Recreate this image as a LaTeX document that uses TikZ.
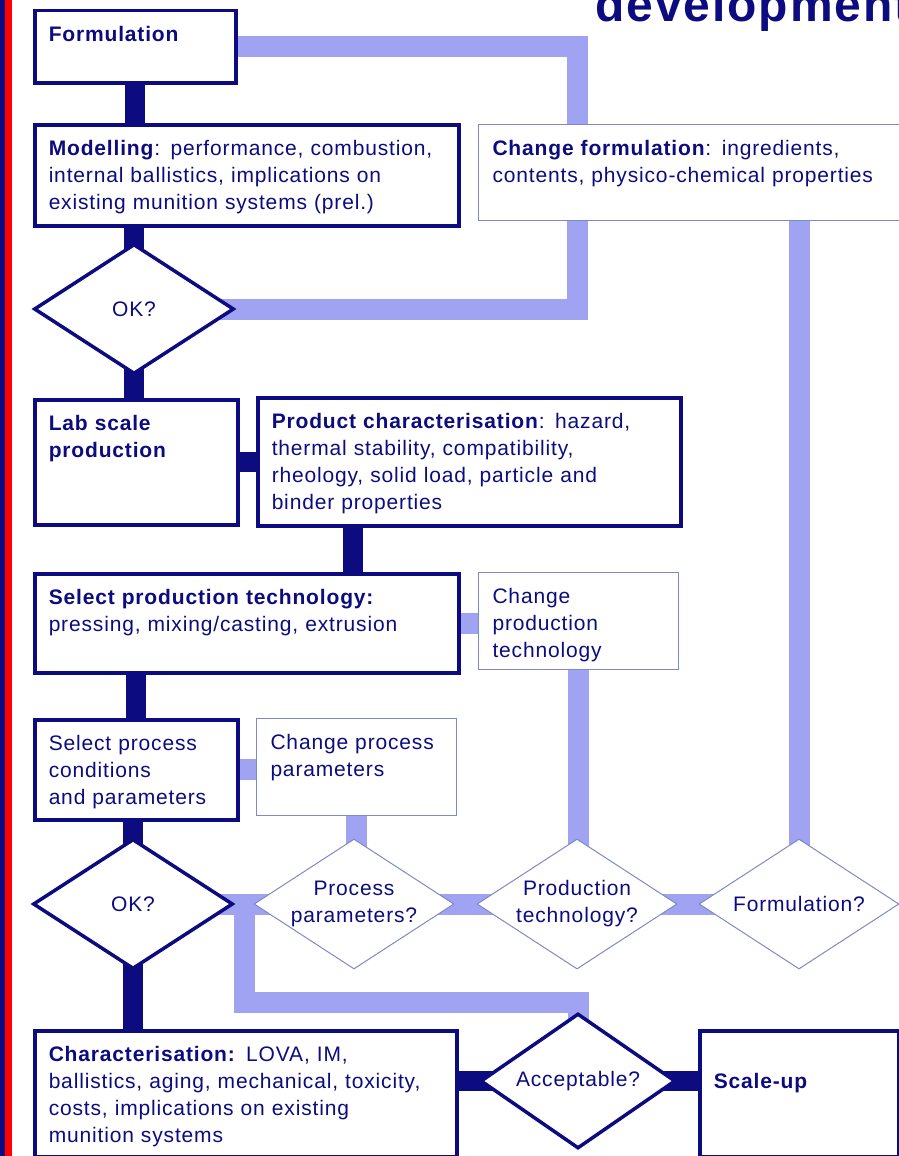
\documentclass[tikz,border=0pt]{standalone}
\usepackage{fontspec}
\setmainfont[LetterSpace=4]{Liberation Sans}
\usetikzlibrary{shapes.geometric, backgrounds}
\definecolor{cnavy}{HTML}{0C0C80}
\definecolor{cpale}{HTML}{A0A2F2}
\definecolor{cframe}{HTML}{7F89C4}
\definecolor{cred}{HTML}{FF0000}
\tikzset{
  every picture/.style={font=\fontsize{21}{27}\selectfont},
  stage/.style={draw=cnavy, line width=3.5pt, fill=white, text=cnavy, align=left, anchor=north west,
    inner xsep=14pt, inner ysep=6pt, text height=25pt},
  change/.style={stage, draw=cframe, line width=1pt},
  test/.style={diamond, draw=cnavy, line width=3.5pt, fill=white, minimum width=200pt, minimum height=130pt, inner sep=0pt},
  query/.style={test, draw=cframe, line width=1pt},
  qtext/.style={text=cnavy, align=center},
  mainbar/.style={draw=cnavy, line width=20pt},
  loopbar/.style={draw=cpale, line width=21pt},
  title/.style={font=\fontsize{48}{52}\selectfont\bfseries, text=cnavy, inner sep=0pt},
}

\begin{document}
\begin{tikzpicture}[x=1pt, y=-1pt]
  \useasboundingbox (0,0) rectangle (899,1156);
  \fill[cnavy] (0,0) rectangle (5,1156);
  \fill[cred] (5,0) rectangle (12,1156);
  \node[title, anchor=base west] (headline) at (595,22) {development};

  \node[stage, text width=173pt, text depth=35pt] (form) at (33,9) {\textbf{Formulation}};
  \node[stage, text width=396pt, text depth=64pt] (model) at (33,123) {\textbf{Modelling}: performance, combustion,\\internal ballistics, implications on\\existing munition systems (prel.)};
  \node[change, text width=402pt, text depth=59pt] (chform) at (478,124) {\textbf{Change formulation}: ingredients,\\contents, physico-chemical properties};
  \node[test, label={[qtext]center:OK?}] (ok1) at (134,309) {};
  \node[stage, text width=175pt, text depth=88pt] (lab) at (33,398) {\textbf{Lab scale}\\\textbf{production}};
  \node[stage, text width=395pt, text depth=91pt] (prodchar) at (256,396) {\textbf{Product characterisation}: hazard,\\thermal stability, compatibility,\\rheology, solid load, particle and\\binder properties};
  \node[stage, text width=396pt, text depth=62pt] (selprod) at (33,572) {\textbf{Select production technology:}\\pressing, mixing/casting, extrusion};
  \node[change, text width=172pt, text depth=60pt] (chprod) at (478,572) {Change\\production\\technology};
  \node[stage, text width=175pt, text depth=63pt] (selproc) at (33,718) {Select process\\conditions\\and parameters};
  \node[change, text width=172pt, text depth=60pt] (chproc) at (256,718) {Change process\\parameters};
  \node[test, label={[qtext]center:OK?}] (ok2) at (133,904) {};
  \node[query, label={[qtext]center:Process\\parameters?}] (procq) at (354,904) {};
  \node[query, label={[qtext]center:Production\\technology?}] (prodq) at (577,904) {};
  \node[query, label={[qtext]center:Formulation?}] (formq) at (799,904) {};
  \node[stage, text width=394pt, text depth=89pt] (charac) at (33,1029) {\textbf{Characterisation:} LOVA, IM,\\ballistics, aging, mechanical, toxicity,\\costs, implications on existing\\munition systems};
  \node[test, minimum width=195pt, minimum height=135pt, label={[qtext]center:Acceptable?}] (accept) at (578,1081) {};
  \node[stage, text width=171pt, text height=52pt, text depth=62pt] (scaleup) at (698,1029) {\textbf{Scale-up}};

  \begin{scope}[on background layer]
    \draw[mainbar] (form.center) -- (form.center |- model.center);
    \draw[mainbar] (ok1.center |- model.center) -- (ok1.center);
    \draw[mainbar] (ok1.center) -- (ok1.center |- lab.center);
    \draw[mainbar] (lab.center) -- (lab.center -| prodchar.center);
    \draw[mainbar] ([xshift=97pt]prodchar.south west) -- ([xshift=97pt]prodchar.south west |- selprod.center);
    \draw[mainbar] (selprod.center -| selproc.center) -- (selproc.center);
    \draw[mainbar] (selproc.center -| ok2.center) -- (ok2.center);
    \draw[mainbar] (ok2.center) -- (ok2.center |- charac.center);
    \draw[mainbar] (charac.center |- accept.center) -- (accept.center) -- (accept.center -| scaleup.center);

    \draw[loopbar] (form.center) -| (prodq.center |- chform.center);
    \draw[loopbar] (ok1.center) -| (prodq.center |- chform.center);
    \draw[loopbar] (formq.center |- chform.center) -- (formq.center);
    \draw[loopbar] (selprod.center) -- (selprod.center -| chprod.center);
    \draw[loopbar] (chprod.center) -- (chprod.center |- prodq.center);
    \draw[loopbar] (selproc.center) -- (selproc.center -| chproc.center);
    \draw[loopbar] (chproc.center) -- (chproc.center |- procq.center);
    \draw[loopbar] (ok2.center) -- (procq.center) -- (prodq.center) -- (formq.center);
    \draw[loopbar] (accept.center) -- ++(0,-79) -| ([xshift=10pt]ok2.east);
  \end{scope}
\end{tikzpicture}
\end{document}
